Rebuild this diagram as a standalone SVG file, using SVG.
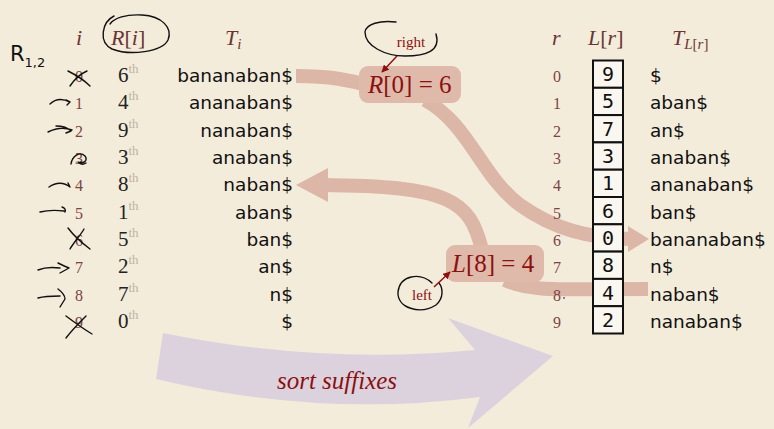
<svg xmlns="http://www.w3.org/2000/svg" width="774" height="429" viewBox="0 0 774 429">
<defs>
<marker id="pen" viewBox="0 0 10 10" refX="9" refY="5" markerWidth="5" markerHeight="5" orient="auto"><path d="M0,0 L10,5 L0,10 z" fill="#8b1010"/></marker>
</defs>
<style>
.hd{font-family:"Liberation Serif",serif;font-style:italic;font-size:22px;fill:#6b3434}
.up{font-style:normal}
.idx{font-family:"Liberation Serif",serif;font-size:16px;fill:#7a4444;text-anchor:middle}
.rk{font-family:"Liberation Serif",serif;font-size:21px;fill:#222}
.th{font-family:"Liberation Serif",serif;font-size:13px;fill:#bdb3a3}
.suf{font-family:"DejaVu Sans",sans-serif;font-size:18.5px;fill:#111}
.sl{text-anchor:end}
.bx{fill:#faf6f0;stroke:#111;stroke-width:2}
.bd{font-family:"DejaVu Sans Mono",monospace;font-size:20px;fill:#111;text-anchor:middle}
.band{fill:none;stroke:#dcb6a7;stroke-width:14}
.lab{font-family:"Liberation Serif",serif;font-size:25px;fill:#8b1010}
.pen{fill:none;stroke:#111;stroke-width:1.4;stroke-linecap:round;stroke-linejoin:round}
.note{font-family:"Liberation Serif",serif;font-size:15px;fill:#8b1010;text-anchor:middle}
</style>
<rect width="774" height="429" fill="#f4ecdb"/>

<g id="sort-arrow">
<path d="M163,333 Q320,365 475,350 L448,318 L553,356 L468,428 L480,397 Q320,418 156,379 Z" fill="#dcd2de"/>
<text x="337" y="389" text-anchor="middle" style="font-family:'Liberation Serif',serif;font-style:italic;font-size:25px;fill:#8b1010">sort suffixes</text>
</g>

<g id="connectors">
<path class="band" d="M296,76 C330,76 350,80 370,86"/>
<path class="band" d="M425,100 C470,125 480,175 520,205 C555,230 590,238 630,239"/>
<path d="M628,226 L649,239 L628,252 Z" fill="#dcb6a7"/>
<path class="band" d="M482,250 C470,200 450,186 322,185"/>
<path d="M328,168 L296,185 L328,202 Z" fill="#dcb6a7"/>
<path class="band" d="M505,280 C530,292 560,289 648,289"/>
</g>

<g id="headers">
<text class="hd" x="76" y="45">i</text>
<text class="hd" x="111" y="45">R<tspan class="up">[</tspan>i<tspan class="up">]</tspan></text>
<text class="hd" x="225" y="45">T<tspan font-size="15" dy="4">i</tspan></text>
<text class="hd" x="552" y="45">r</text>
<text class="hd" x="588" y="45">L<tspan class="up">[</tspan>r<tspan class="up">]</tspan></text>
<text class="hd" x="672" y="45">T<tspan font-size="15" dy="4">L<tspan class="up">[</tspan>r<tspan class="up">]</tspan></tspan></text>
</g>

<g id="left-table">
<text class="idx" x="79" y="82">0</text>
<text class="idx" x="79" y="109">1</text>
<text class="idx" x="79" y="137">2</text>
<text class="idx" x="79" y="164">3</text>
<text class="idx" x="79" y="191">4</text>
<text class="idx" x="79" y="219">5</text>
<text class="idx" x="79" y="246">6</text>
<text class="idx" x="79" y="273">7</text>
<text class="idx" x="79" y="301">8</text>
<text class="idx" x="79" y="328">9</text>

<text class="rk" x="118" y="82">6<tspan class="th" dy="-9">th</tspan></text>
<text class="rk" x="118" y="109">4<tspan class="th" dy="-9">th</tspan></text>
<text class="rk" x="118" y="137">9<tspan class="th" dy="-9">th</tspan></text>
<text class="rk" x="118" y="164">3<tspan class="th" dy="-9">th</tspan></text>
<text class="rk" x="118" y="191">8<tspan class="th" dy="-9">th</tspan></text>
<text class="rk" x="118" y="219">1<tspan class="th" dy="-9">th</tspan></text>
<text class="rk" x="118" y="246">5<tspan class="th" dy="-9">th</tspan></text>
<text class="rk" x="118" y="273">2<tspan class="th" dy="-9">th</tspan></text>
<text class="rk" x="118" y="301">7<tspan class="th" dy="-9">th</tspan></text>
<text class="rk" x="118" y="328">0<tspan class="th" dy="-9">th</tspan></text>

<text class="suf sl" x="293" y="82">bananaban$</text>
<text class="suf sl" x="293" y="109">ananaban$</text>
<text class="suf sl" x="293" y="137">nanaban$</text>
<text class="suf sl" x="293" y="164">anaban$</text>
<text class="suf sl" x="293" y="191">naban$</text>
<text class="suf sl" x="293" y="219">aban$</text>
<text class="suf sl" x="293" y="246">ban$</text>
<text class="suf sl" x="293" y="273">an$</text>
<text class="suf sl" x="293" y="301">n$</text>
<text class="suf sl" x="293" y="328">$</text>
</g>

<g id="right-table">
<text class="idx" x="557" y="82">0</text>
<text class="idx" x="557" y="109">1</text>
<text class="idx" x="557" y="137">2</text>
<text class="idx" x="557" y="164">3</text>
<text class="idx" x="557" y="191">4</text>
<text class="idx" x="557" y="219">5</text>
<text class="idx" x="557" y="246">6</text>
<text class="idx" x="557" y="273">7</text>
<text class="idx" x="557" y="301">8</text>
<circle cx="564" cy="298" r="0.9" fill="#7a4444"/>
<text class="idx" x="557" y="328">9</text>

<rect class="bx" x="593" y="60.5" width="30" height="27.3"/>
<rect class="bx" x="593" y="87.8" width="30" height="27.3"/>
<rect class="bx" x="593" y="115.1" width="30" height="27.3"/>
<rect class="bx" x="593" y="142.4" width="30" height="27.3"/>
<rect class="bx" x="593" y="169.7" width="30" height="27.3"/>
<rect class="bx" x="593" y="197" width="30" height="27.3"/>
<rect class="bx" x="593" y="224.3" width="30" height="27.3"/>
<rect class="bx" x="593" y="251.6" width="30" height="27.3"/>
<rect class="bx" x="593" y="278.9" width="30" height="27.3"/>
<rect class="bx" x="593" y="306.2" width="30" height="27.3"/>
<text class="bd" x="608" y="81">9</text>
<text class="bd" x="608" y="108">5</text>
<text class="bd" x="608" y="136">7</text>
<text class="bd" x="608" y="163">3</text>
<text class="bd" x="608" y="190">1</text>
<text class="bd" x="608" y="218">6</text>
<text class="bd" x="608" y="245">0</text>
<text class="bd" x="608" y="272">8</text>
<text class="bd" x="608" y="300">4</text>
<text class="bd" x="608" y="327">2</text>

<text class="suf" x="650" y="82">$</text>
<text class="suf" x="650" y="109">aban$</text>
<text class="suf" x="650" y="137">an$</text>
<text class="suf" x="650" y="164">anaban$</text>
<text class="suf" x="650" y="191">ananaban$</text>
<text class="suf" x="650" y="219">ban$</text>
<text class="suf" x="650" y="246">bananaban$</text>
<text class="suf" x="650" y="273">n$</text>
<text class="suf" x="650" y="301">naban$</text>
<text class="suf" x="650" y="328">nanaban$</text>
</g>

<g id="R0-label">
<rect x="359" y="66" width="102" height="37" rx="9" fill="#dfb9aa"/>
<text class="lab" x="368" y="93"><tspan font-style="italic">R</tspan>[0] = 6</text>
</g>

<g id="L8-label">
<rect x="446" y="245" width="98" height="37" rx="9" fill="#dfb9aa"/>
<text class="lab" x="452" y="272"><tspan font-style="italic">L</tspan>[8] = 4</text>
</g>

<g id="right-note">
<path class="pen" d="M396,22 C380,20 366,24 365,32 C365,46 385,56 405,56 C426,56 441,51 436,34"/>
<text class="note" x="411" y="47">right</text>
<path d="M397,56 L382,72" stroke="#8b1010" stroke-width="1.5" fill="none" marker-end="url(#pen)"/>
</g>

<g id="left-note">
<path class="pen" d="M432,283 C420,272 400,275 398,292 C397,308 420,315 436,305 C444,298 443,288 439,283"/>
<text class="note" x="422" y="300">left</text>
<path d="M434,287 L450,272" stroke="#8b1010" stroke-width="1.5" fill="none" marker-end="url(#pen)"/>
</g>

<g id="handwriting">
<path class="pen" d="M114,16 C102,22 98,42 112,49 C130,56 162,52 168,40 C173,28 162,16 142,15 C126,14 114,18 110,24"/>
<text x="10" y="61" style="font-family:'DejaVu Sans',sans-serif;font-size:21px;fill:#111">R<tspan font-size="13" dy="6">1,2</tspan></text>
<path class="pen" d="M68,71 C76,75 84,80 90,86 M70,86 C74,80 80,74 87,71"/>
<path class="pen" d="M50,104 C55,99 62,98 70,102 M66,100 L70,102 L67,105"/>
<path class="pen" d="M48,132 C56,128 64,127 72,130 M56,126 C62,126 68,128 71,131 L66,133"/>
<path class="pen" d="M71,164 C72,156 80,151 85,156 C88,160 84,164 80,162 M78,162 C80,164 83,165 86,163"/>
<path class="pen" d="M49,187 C56,182 64,182 70,187 M68,183 L70,187"/>
<path class="pen" d="M40,212 C48,210 56,210 64,211 M62,207 C65,208 66,210 65,212"/>
<path class="pen" d="M68,228 C74,236 82,243 90,249 M70,249 C74,242 80,236 84,229"/>
<path class="pen" d="M38,270 C45,267 52,267 60,268 M58,263 C62,265 66,267 69,268 L60,273"/>
<path class="pen" d="M38,298 C45,296 52,296 60,296 M58,289 C62,292 65,296 65,299 L60,307"/>
<path class="pen" d="M66,316 C74,322 82,328 92,334 M66,338 C72,330 80,322 86,316"/>
</g>
</svg>
